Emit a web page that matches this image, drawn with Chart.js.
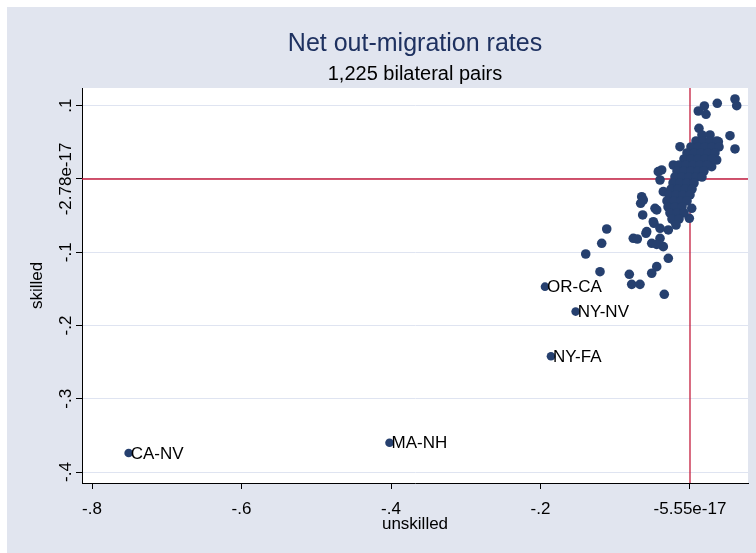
<!DOCTYPE html>
<html>
<head>
<meta charset="utf-8">
<title>Net out-migration rates</title>
<script src="https://cdn.jsdelivr.net/npm/chart.js@4.4.1/dist/chart.umd.min.js"></script>
<style>
  html, body { margin: 0; padding: 0; background: #ffffff; }
  #wrap { position: absolute; left: 7px; top: 7px; width: 749px; height: 546px; background: #e1e5ef; }
</style>
</head>
<body>
<div id="wrap"><canvas id="chart" width="749" height="546"></canvas></div>
<script>
// Axis ticks (Stata prints the zero ticks as tiny floats)
const X_TICKS = [-0.8, -0.6, -0.4, -0.2, 0];
const X_TICK_LABELS = ['-.8', '-.6', '-.4', '-.2', '-5.55e-17'];
const Y_TICKS = [0.1, 0, -0.1, -0.2, -0.3, -0.4];
const Y_TICK_LABELS = ['.1', '-2.78e-17', '-.1', '-.2', '-.3', '-.4'];
const X_MIN = -0.8134, X_MAX = 0.0776;
const Y_MIN = -0.415, Y_MAX = 0.1242;

// Reference lines (means)
const REF_X = -5.55e-17;
const REF_Y = -2.78e-17;

// Labelled outliers
const PAIR_LABELS = ['CA-NV', 'MA-NH', 'OR-CA', 'NY-NV', 'NY-FA'];
const PAIR_UNSKILLED = [-0.751, -0.402, -0.194, -0.153, -0.186];
const PAIR_SKILLED = [-0.374, -0.360, -0.147, -0.181, -0.242];

// Remaining pairs (overlapping dots merged)
const UNSKILLED = [
    0.0602, 0.0625, 0.0365, 0.0192, 0.0111, 0.0214, 0.0120, 0.0535, 0.0602, -0.0134,
    0.0379, -0.0223, -0.0379, -0.0401, -0.0357, -0.0646, -0.0660, -0.0633, -0.0468, -0.1114,
    -0.1181, -0.0759, -0.0705, -0.0579, -0.0491, -0.0512, -0.0401, -0.0357, -0.0290, -0.0290,
    -0.0445, -0.0512, -0.0812, -0.0780, -0.0669, -0.0344, -0.1395, -0.1204, 0.0023, -0.0009,
    -0.0201, -0.0589, -0.0445, -0.0482, -0.0625, -0.0424, 0.0357, 0.0290, -0.0445, -0.0401,
    0.0160, 0.0268,
    0.0080, 0.0174, 0.0268, 0.0361,
    0.0013, 0.0107, 0.0201, 0.0294, 0.0388,
    -0.0040, 0.0054, 0.0147, 0.0241, 0.0334,
    -0.0080, 0.0013, 0.0107, 0.0201, 0.0294,
    -0.0147, -0.0054, 0.0040, 0.0134, 0.0227,
    -0.0174, -0.0080, 0.0013, 0.0107, 0.0187,
    -0.0201, -0.0107, -0.0013, 0.0080, 0.0160,
    -0.0227, -0.0134, -0.0040, 0.0054,
    -0.0254, -0.0161, -0.0067, 0.0027,
    -0.0281, -0.0187, -0.0094, 0.0000,
    -0.0308, -0.0214, -0.0120, -0.0040,
    -0.0294, -0.0201, -0.0107,
    -0.0268, -0.0174, -0.0080,
    -0.0241, -0.0147,
    -0.0187
];
const SKILLED = [
    0.1092, 0.1001, 0.1033, 0.0997, 0.0928, 0.0883, 0.0692, 0.0591, 0.0410, 0.0441,
    0.0509, 0.0191, 0.0123, -0.0014, -0.0173, -0.0242, -0.0332, -0.0491, -0.0400, -0.0683,
    -0.0878, -0.0810, -0.0819, -0.0719, -0.0583, -0.0878, -0.0810, -0.0924, -0.0696, -0.1083,
    -0.1197, -0.1287, -0.1301, -0.1438, -0.1438, -0.1574, -0.1024, -0.1266, -0.0400, -0.0537,
    -0.0583, -0.0741, -0.0892, -0.0605, -0.0287, 0.0100, 0.0259, 0.0168, -0.0423, -0.0673,
    0.0601, 0.0601,
    0.0519, 0.0519, 0.0519, 0.0519,
    0.0437, 0.0437, 0.0437, 0.0437, 0.0437,
    0.0355, 0.0355, 0.0355, 0.0355, 0.0355,
    0.0273, 0.0273, 0.0273, 0.0273, 0.0273,
    0.0191, 0.0191, 0.0191, 0.0191, 0.0191,
    0.0109, 0.0109, 0.0109, 0.0109, 0.0109,
    0.0027, 0.0027, 0.0027, 0.0027, 0.0027,
    -0.0055, -0.0055, -0.0055, -0.0055,
    -0.0137, -0.0137, -0.0137, -0.0137,
    -0.0218, -0.0218, -0.0218, -0.0218,
    -0.0300, -0.0300, -0.0300, -0.0300,
    -0.0382, -0.0382, -0.0382,
    -0.0464, -0.0464, -0.0464,
    -0.0546, -0.0546,
    -0.0628
];

const NAVY = '#26406f';
const RED = '#c41d3e';
const FONT = '"Liberation Sans", Arial, sans-serif';

// y tick labels are rotated like Stata, and outliers get their names
const textPlugin = {
    id: 'stataText',
    afterDraw(chart) {
        const ctx = chart.ctx;
        const ys = chart.scales.y;
        ctx.save();
        ctx.fillStyle = '#000';
        ctx.font = '17px ' + FONT;
        ctx.textAlign = 'center';
        ctx.textBaseline = 'middle';
        Y_TICKS.forEach((v, i) => {
            ctx.save();
            ctx.translate(59, ys.getPixelForValue(v));
            ctx.rotate(-Math.PI / 2);
            ctx.fillText(Y_TICK_LABELS[i], 0, 0);
            ctx.restore();
        });
        ctx.textAlign = 'left';
        chart.getDatasetMeta(1).data.forEach((pt, i) => {
            ctx.fillText(PAIR_LABELS[i], pt.x + 2, pt.y + 1);
        });
        ctx.restore();
    }
};

const whitePlot = {
    id: 'whitePlot',
    beforeDraw(chart) {
        const a = chart.chartArea;
        chart.ctx.save();
        chart.ctx.fillStyle = '#ffffff';
        chart.ctx.fillRect(a.left, a.top, a.right - a.left, a.bottom - a.top);
        chart.ctx.restore();
    }
};

const points = UNSKILLED.map((x, i) => ({ x: x, y: SKILLED[i] }));
const pairs = PAIR_UNSKILLED.map((x, i) => ({ x: x, y: PAIR_SKILLED[i] }));

new Chart(document.getElementById('chart'), {
    type: 'scatter',
    data: {
        datasets: [
            { data: points, backgroundColor: NAVY, borderWidth: 0, pointRadius: 4.8, order: 1 },
            { data: pairs, backgroundColor: NAVY, borderWidth: 0, pointRadius: 4.3, order: 1 },
            { type: 'line', data: [{ x: X_MIN, y: REF_Y }, { x: X_MAX, y: REF_Y }],
              borderColor: RED, borderWidth: 1.3, pointRadius: 0, order: 2 },
            { type: 'line', data: [{ x: REF_X, y: Y_MIN }, { x: REF_X, y: Y_MAX }],
              borderColor: RED, borderWidth: 1.3, pointRadius: 0, order: 2 }
        ]
    },
    options: {
        responsive: false,
        animation: false,
        layout: { padding: { top: 0, right: 8, bottom: 0, left: 0 } },
        plugins: {
            legend: { display: false },
            tooltip: { enabled: false },
            title: {
                display: true,
                text: 'Net out-migration rates',
                color: '#1e3160',
                fullSize: false,
                font: { family: FONT, size: 25, weight: 'normal' },
                padding: { top: 22, bottom: 0 }
            },
            subtitle: {
                display: true,
                text: '1,225 bilateral pairs',
                color: '#000',
                fullSize: false,
                font: { family: FONT, size: 20, weight: 'normal' },
                padding: { top: 3, bottom: 2 }
            }
        },
        scales: {
            x: {
                type: 'linear',
                min: X_MIN,
                max: X_MAX,
                afterBuildTicks: s => { s.ticks = X_TICKS.map(v => ({ value: v })); },
                afterFit: s => { s.height = 70; },
                ticks: {
                    color: '#000',
                    font: { family: FONT, size: 17 },
                    padding: 10,
                    maxRotation: 0,
                    callback: (v, i) => X_TICK_LABELS[i]
                },
                grid: { drawOnChartArea: false, tickLength: 6, tickColor: '#000' },
                border: { color: '#000', width: 1 },
                title: {
                    display: true,
                    text: 'unskilled',
                    color: '#000',
                    font: { family: FONT, size: 17 },
                    padding: { top: 0, bottom: 18 }
                }
            },
            y: {
                type: 'linear',
                min: Y_MIN,
                max: Y_MAX,
                afterBuildTicks: s => { s.ticks = Y_TICKS.map(v => ({ value: v })); },
                afterFit: s => { s.width = 75; },
                ticks: { display: false },
                grid: { color: '#dfe4f1', lineWidth: 1, tickLength: 6, tickColor: '#000' },
                border: { color: '#000', width: 1 },
                title: {
                    display: true,
                    text: 'skilled',
                    color: '#000',
                    font: { family: FONT, size: 17 },
                    padding: { top: 20, bottom: 0 }
                }
            }
        }
    },
    plugins: [whitePlot, textPlugin]
});
</script>
</body>
</html>
